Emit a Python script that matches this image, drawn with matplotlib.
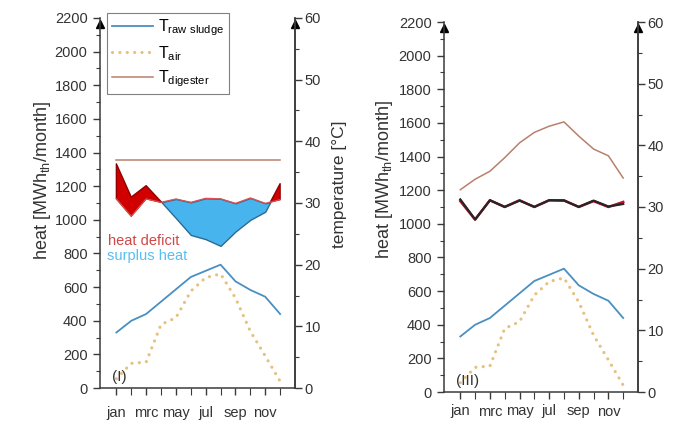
import numpy as np
import matplotlib.pyplot as plt
from matplotlib.ticker import MultipleLocator, FixedLocator

plt.rcParams['font.family'] = ['Liberation Sans', 'DejaVu Sans']
plt.rcParams['mathtext.default'] = 'regular'

# meses (1 = enero ... 12 = diciembre)
meses = np.arange(1, 13)
meses_etiqueta = [1, 3, 5, 7, 9, 11]
etiquetas_mes = ['jan', 'mrc', 'may', 'jul', 'sep', 'nov']

# temperaturas [°C] (eje derecho)
t_raw_sludge = [9.0, 10.9, 12.0, 14.0, 16.0, 18.0, 19.0, 20.0, 17.3, 15.9, 14.8, 12.0]
t_air = [1.5, 4.0, 4.2, 10.3, 11.4, 15.7, 17.9, 18.5, 14.6, 9.2, 5.2, 1.1]
t_digester_I = [37.0] * 12
t_digester_III = [32.8, 34.5, 35.8, 38.0, 40.4, 42.1, 43.1, 43.8, 41.5, 39.4, 38.3, 34.7]

# calor [MWh_th/mes] (eje izquierdo)
calor_disp_I = [1125, 1022, 1125, 1104, 1124, 1104, 1128, 1125, 1098, 1130, 1098, 1120]
calor_dem_I = [1333, 1135, 1203, 1108, 1010, 910, 885, 845, 930, 1000, 1048, 1215]
calor_disp_III = [1135, 1025, 1140, 1100, 1140, 1100, 1140, 1140, 1100, 1135, 1100, 1130]
calor_dem_III = [1145, 1026, 1140, 1101, 1138, 1101, 1140, 1138, 1101, 1138, 1103, 1118]

c_raw = '#4a8fc2'
c_air = '#e6c07e'
c_dig = '#b9806c'
c_rojo = '#d00000'
c_azul = '#48b4ee'
c_eje = '#3a3a3a'

fig = plt.figure(figsize=(6.75, 4.21), dpi=100)


def panel(rect, dem, disp, t_dig, rotulo, pad_x, pos_izq, pos_der,
          leyenda=False, textos=False):
    ax = fig.add_axes(rect)
    ax2 = ax.twinx()

    dem = np.array(dem, float)
    disp = np.array(disp, float)
    ax.fill_between(meses, disp, dem, where=dem >= disp, interpolate=True,
                    facecolor=c_rojo, edgecolor='#900000', lw=1)
    ax.fill_between(meses, dem, disp, where=disp >= dem, interpolate=True,
                    facecolor=c_azul, edgecolor='#2c6a92', lw=1)
    if leyenda:
        ax.plot(meses, disp, color='#e05050', lw=0.9)
    else:
        ax.plot(meses, disp, color='#c0102a', lw=1.8)
        ax.plot(meses, dem, color='#262626', lw=1.6)

    l1, = ax2.plot(meses, t_raw_sludge, color=c_raw, lw=1.3)
    l2, = ax2.plot(meses, t_air, color=c_air, lw=2.3, ls=(0, (0.01, 2.3)),
                   dash_capstyle='round')
    l3, = ax2.plot(meses, t_dig, color=c_dig, lw=1.1)

    ax.set_xlim(-0.1, 13)
    ax.set_ylim(0, 2200)
    ax2.set_ylim(0, 60)
    ax.xaxis.set_major_locator(FixedLocator(meses_etiqueta))
    ax.set_xticklabels(etiquetas_mes)
    ax.xaxis.set_minor_locator(FixedLocator([2, 4, 6, 8, 10, 12]))
    ax.yaxis.set_major_locator(MultipleLocator(200))
    ax.yaxis.set_minor_locator(MultipleLocator(100))
    ax2.yaxis.set_major_locator(MultipleLocator(10))
    ax2.yaxis.set_minor_locator(MultipleLocator(5))

    for a in (ax, ax2):
        a.spines['top'].set_visible(False)
        for s in a.spines.values():
            s.set_color(c_eje)
            s.set_linewidth(1.1)
        a.tick_params(which='major', length=5, width=1, color=c_eje,
                      labelsize=10.5, labelcolor='#333333')
        a.tick_params(which='minor', length=3, width=0.8, color=c_eje)
    ax.tick_params(axis='x', which='both', length=5, pad=pad_x)
    ax.tick_params(axis='y', which='major', pad=4)
    ax2.tick_params(axis='y', pad=2)
    ax2.spines['left'].set_visible(False)
    ax2.spines['bottom'].set_visible(False)

    ax.set_ylabel('heat [MWh$_{th}$/month]', fontsize=13, color='#333333')
    ax.yaxis.set_label_coords(*pos_izq)
    ax2.set_ylabel('temperature [°C]', fontsize=12.5, color='#333333')
    ax2.yaxis.set_label_coords(*pos_der)

    for xa in (0, 1):
        ax.plot([xa], [0.985], marker='^', ms=5.5, color='black',
                transform=ax.transAxes, clip_on=False)

    ax.text(0.06, 0.012, rotulo, transform=ax.transAxes, fontsize=11,
            color='#333333', ha='left', va='bottom')

    if textos:
        ax.text(0.04, 0.397, 'heat deficit', transform=ax.transAxes,
                fontsize=10.5, color='#d04848', ha='left', va='center')
        ax.text(0.035, 0.357, 'surplus heat', transform=ax.transAxes,
                fontsize=10.5, color='#58bdf0', ha='left', va='center')

    if leyenda:
        ley = ax2.legend([l1, l2, l3],
                         ['T$_{raw\\ sludge}$', 'T$_{air}$', 'T$_{digester}$'],
                         loc='upper left', bbox_to_anchor=(107 / 675, 1 - 13 / 421),
                         bbox_transform=fig.transFigure, fontsize=11.5,
                         handlelength=2.6, handletextpad=0.3, labelspacing=0.35,
                         borderpad=0.3, borderaxespad=0, fancybox=False,
                         framealpha=1, edgecolor='#808080')
        ley.get_frame().set_linewidth(0.8)
    return ax, ax2


panel([100 / 675, 1 - 388 / 421, 195 / 675, 370 / 421],
      calor_dem_I, calor_disp_I, t_digester_I, '(I)', 8,
      (-0.24, 0.56), (1.19, 0.55), leyenda=True, textos=True)
panel([444 / 675, 1 - 392 / 421, 194 / 675, 370 / 421],
      calor_dem_III, calor_disp_III, t_digester_III, '(III)', 4,
      (-0.255, 0.575), (1.21, 0.55))

fig.savefig('out.png', dpi=100)
